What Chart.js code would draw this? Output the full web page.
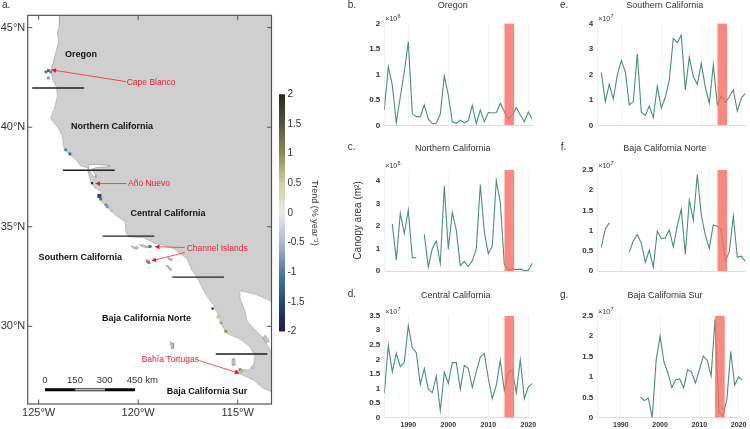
<!DOCTYPE html>
<html>
<head>
<meta charset="utf-8">
<title>Kelp canopy area trends</title>
<script src="https://cdn.jsdelivr.net/npm/chart.js@4"></script>
<style>
html,body{margin:0;padding:0;background:#fff;width:750px;height:429px;overflow:hidden}
canvas{position:absolute;display:block}
</style>
</head>
<body>
<script>
const years=[1984,1985,1986,1987,1988,1989,1990,1991,1992,1993,1994,1995,1996,1997,1998,1999,2000,2001,2002,2003,2004,2005,2006,2007,2008,2009,2010,2011,2012,2013,2014,2015,2016,2017,2018,2019,2020,2021];
const oregon=[.30,1.15,.79,.05,.56,1.05,1.64,.23,.17,.17,.40,.12,.03,.04,.22,.97,.59,.07,.04,.10,.05,.09,.39,.03,.30,.07,.25,.24,.25,.43,.27,.12,.19,.35,.20,.07,.26,.12];
const northernCalifornia=[null,null,2.09,.49,2.56,1.67,2.71,.59,.61,null,1.64,.18,1.0,1.33,.34,3.79,.98,2.6,1.82,.25,.43,.21,.46,1.0,3.84,1.75,.77,1.12,4.01,3.08,.30,.05,.10,.07,.09,.03,.03,.36];
const centralCalifornia=[.84,2.47,1.58,2.21,1.75,1.90,3.16,2.40,2.23,1.14,1.69,.97,.86,1.42,.24,1.56,1.18,1.89,1.89,.98,1.80,1.69,1.04,1.58,2.08,2.21,1.35,.65,1.12,1.97,.94,1.54,1.64,.85,1.99,.65,1.05,1.18];
const southernCalifornia=[null,2.07,.93,1.61,1.03,1.97,2.54,2.10,.80,.93,2.80,.51,.39,.76,.30,1.54,.67,1.10,1.78,3.41,3.24,3.54,1.39,2.67,1.91,1.61,2.43,1.49,.86,2.37,.80,1.15,.89,1.12,1.39,.56,1.06,1.25];
const bajaNorte=[null,.59,1.04,1.19,null,null,null,null,.47,.75,.90,.69,.22,.52,.10,.99,.80,.82,1.02,.60,1.12,1.53,.42,1.75,1.25,2.38,1.39,.89,.56,1.14,1.11,1.02,.24,.48,1.36,.34,.37,.24];
const bajaSur=[null,null,null,null,null,null,null,null,null,null,null,.51,.42,.48,0,1.41,2.0,1.36,1.09,.74,.93,.95,.73,1.18,1.12,.85,1.17,1.51,1.41,1.02,2.41,.12,.05,.43,1.63,.80,1.0,.92];
const eventYears=[2014,2016.5];
const xTickYears=[1990,2000,2010,2020];
const lonTicks=[-125,-120,-115];
const latTicks=[30,35,40,45];
const trendTicks=[-2,-1.5,-1,-.5,0,.5,1,1.5,2];

const landLon=[-123.93,-123.96,-124.06,-124.0,-124.13,-124.26,-124.38,-124.35,-124.26,-124.10,-124.06,-124.18,-124.40,-124.01,-123.81,-123.73,-123.43,-123.12,-122.92,-122.50,-122.5,-122.39,-122.17,-121.83,-121.95,-121.58,-121.16,-120.66,-120.61,-120.49,-119.74,-119.15,-118.74,-118.23,-117.56,-117.31,-117.06,-116.89,-116.64,-116.22,-115.97,-115.80,-115.55,-114.88,-114.38,-114.13,-114.21,-114.46,-114.88,-115.17,-114.72,-114.21,-113.71,-113.31,-113.0,-113.0,-113.26,-113.46,-113.79,-114.13,-114.52,-114.63,-114.85,-114.88,-114.47,-114.05,-113.29,-113.0,-113.0];
const landLat=[45.8,45.13,44.72,44.30,43.80,43.29,42.91,42.63,42.29,42.0,41.54,41.04,40.45,39.95,39.53,38.95,38.61,38.36,38.08,37.94,37.69,37.27,36.94,36.77,36.35,36.02,35.6,35.25,34.75,34.50,34.45,34.16,34.08,33.91,33.41,32.83,32.49,32.16,31.66,31.07,30.57,30.07,29.65,29.36,28.98,28.48,28.06,27.81,27.84,27.76,27.53,27.31,26.89,26.72,26.5,28.4,28.58,29.0,29.50,29.83,30.25,30.75,31.34,31.79,31.7,31.59,31.25,31.1,45.8];
const islands=[
 [[-120.36,34.05],[-120.21,33.98],[-119.99,34.0],[-120.04,33.88],[-120.21,33.91]],
 [[-119.94,34.11],[-119.74,34.05],[-119.49,34.03],[-119.30,34.0],[-119.49,33.95],[-119.82,34.0]],
 [[-119.57,33.26],[-119.41,33.23],[-119.41,33.14],[-119.54,33.16]],
 [[-118.52,33.46],[-118.28,33.38],[-118.32,33.29],[-118.48,33.36]],
 [[-118.60,33.08],[-118.48,33.04],[-118.30,32.83],[-118.40,32.81]],
 [[-118.40,29.2],[-118.22,29.15],[-118.22,28.9],[-118.32,28.86]],
 [[-115.28,28.36],[-115.15,28.39],[-115.12,28.06],[-115.25,28.03]],
 [[-113.63,29.55],[-113.41,29.25],[-113.58,29.18],[-113.73,29.43]]
];
const waterPatches=[
 [[-122.50,38.11],[-122.17,38.14],[-121.45,38.08],[-121.45,38.01],[-122.09,37.98],[-122.34,37.89],[-122.14,37.61],[-122.12,37.47],[-122.29,37.56],[-122.50,37.89]],
 [[-114.28,28.03],[-114.15,27.96],[-114.25,27.86]]
];
const kelpLon=[-124.63,-124.51,-124.40,-124.51,-123.64,-123.43,-122.32,-121.95,-121.88,-121.62,-121.55,-121.33,-119.41,-119.74,-119.49,-119.55,-116.26,-115.99,-115.84,-115.6,-114.88,-114.8];
const kelpLat=[42.78,42.84,42.78,42.47,38.86,38.66,37.19,36.55,36.40,36.10,36.0,35.80,34.01,34.05,33.23,33.28,30.89,30.47,30.17,29.75,27.82,27.75];
const kelpTrend=[-1.0,-1.2,-.9,-.7,-1.0,-1.2,1.9,-1.5,-1.1,-.9,-.8,.6,-1.0,.6,-1.0,.9,1.9,.6,.8,1.0,1.0,.7];
const regionLines=[
 {lon:[-125.32,-122.72],lat:41.97},
 {lon:[-123.78,-121.18],lat:37.84},
 {lon:[-121.78,-119.19],lat:34.53},
 {lon:[-118.28,-115.69],lat:32.47},
 {lon:[-116.1,-113.51],lat:28.61}
];
const scaleBarLon=[-124.68,-123.17,-121.67,-120.16];
const scaleBarLat=26.82;
const arrowsList=[
 {from:[-120.61,42.29],to:[-124.35,42.88]},
 {from:[-120.58,37.17],to:[-122.14,37.17]},
 {from:[-117.65,33.96],to:[-119.15,34.0]},
 {from:[-117.65,33.71],to:[-119.32,33.29]},
 {from:[-116.93,28.28],to:[-114.92,27.64]}
];
const colorStops=[[-2,[32,26,77]],[-1.5,[35,72,114]],[-1,[79,122,166]],[-.5,[169,187,208]],[0,[234,234,232]],[.5,[207,207,160]],[1,[141,141,86]],[1.5,[85,86,58]],[2,[43,42,20]]];
const FONT='"Liberation Sans", Arial, sans-serif';
const DARK='#333333';
Chart.defaults.font.family=FONT;
Chart.defaults.animation=false;
Chart.defaults.responsive=false;
Chart.defaults.plugins.legend.display=false;
Chart.defaults.plugins.tooltip.enabled=false;

function trendColor(t){
 for(let i=1;i<colorStops.length;i++){
  if(t<=colorStops[i][0]){
   const a=colorStops[i-1],b=colorStops[i],f=(t-a[0])/(b[0]-a[0]);
   const c=a[1].map((v,k)=>Math.round(v+(b[1][k]-v)*f));
   return `rgb(${c[0]},${c[1]},${c[2]})`;
  }
 }
 return `rgb(${colorStops[8][1].join(',')})`;
}
function addCanvas(left,top,w,h){
 const c=document.createElement('canvas');
 c.width=w;c.height=h;
 c.style.left=left+'px';c.style.top=top+'px';c.style.width=w+'px';c.style.height=h+'px';
 document.body.appendChild(c);
 return c;
}
function poly(pts,bg,border,order){
 return {data:pts.map(p=>({x:p[0],y:p[1]})),showLine:true,fill:'shape',backgroundColor:bg,borderColor:border,borderWidth:.6,pointRadius:0,order};
}

/* ---------- map ---------- */
(function(){
 const landPts=landLon.map((v,i)=>[v,landLat[i]]);
 const ds=[poly(landPts,'#cfcfcf','#a6a6a6',20)];
 islands.forEach(p=>ds.push(poly(p.concat([p[0]]),'#c4c4c4','#8c8c8c',19)));
 waterPatches.forEach(p=>ds.push(poly(p.concat([p[0]]),'#ffffff','#8c8c8c',18)));
 regionLines.forEach(r=>ds.push({data:r.lon.map(x=>({x,y:r.lat})),showLine:true,borderColor:'#1c1c1c',borderWidth:1.4,pointRadius:0,fill:false,order:5}));
 ds.push({data:kelpLon.map((x,i)=>({x,y:kelpLat[i]})),showLine:false,pointStyle:'rect',pointRadius:kelpTrend.map(t=>t<-1.4?2.8:(t>1.4?1.6:2)),pointBorderWidth:0,pointBackgroundColor:kelpTrend.map(trendColor),order:4});
 ds.push({data:[{x:scaleBarLon[0],y:scaleBarLat},{x:scaleBarLon[3],y:scaleBarLat}],showLine:true,borderColor:'#000',borderWidth:3,pointRadius:0,fill:false,order:3});
 ds.push({data:[{x:scaleBarLon[1],y:scaleBarLat},{x:scaleBarLon[2],y:scaleBarLat}],showLine:true,borderColor:'#bdbdbd',borderWidth:1.6,pointRadius:0,fill:false,order:2});
 const boldLabels=[['Oregon',81,54.5],['Northern California',112,127],['Central California',168,213.3],['Southern California',80.3,257.7],['Baja California Norte',146.5,319],['Baja California Sur',207,391.3]];
 const redLabels=[['Cape Blanco',126.7,82.7],['Año Nuevo',128,184],['Channel Islands',186.7,249],['Bahía Tortugas',141.7,359.3]];
 const scaleLabels=[['0',45,'center'],['150',75,'center'],['300',104.7,'center'],['450 km',126.7,'left']];
 const overlay={id:'mapOverlay',afterDatasetsDraw(chart){
  const {ctx,chartArea:a,scales:{x,y}}=chart;
  ctx.save();
  ctx.strokeStyle='#555';ctx.lineWidth=1;
  ctx.beginPath();
  lonTicks.forEach(v=>{const p=x.getPixelForValue(v);ctx.moveTo(p,a.top);ctx.lineTo(p,a.top+4.5);ctx.moveTo(p,a.bottom);ctx.lineTo(p,a.bottom-4.5);});
  latTicks.forEach(v=>{const p=y.getPixelForValue(v);ctx.moveTo(a.left,p);ctx.lineTo(a.left+4.5,p);ctx.moveTo(a.right,p);ctx.lineTo(a.right-4.5,p);});
  ctx.stroke();
  ctx.lineWidth=1.2;ctx.strokeRect(a.left,a.top,a.right-a.left,a.bottom-a.top);
  ctx.strokeStyle='#ec2b36';ctx.fillStyle='#e8102a';ctx.lineWidth=.8;
  arrowsList.forEach(r=>{
   const x0=x.getPixelForValue(r.from[0]),y0=y.getPixelForValue(r.from[1]),x1=x.getPixelForValue(r.to[0]),y1=y.getPixelForValue(r.to[1]);
   const t=Math.atan2(y1-y0,x1-x0);
   ctx.beginPath();ctx.moveTo(x0,y0);ctx.lineTo(x1,y1);ctx.stroke();
   ctx.beginPath();ctx.moveTo(x1,y1);
   ctx.lineTo(x1-5*Math.cos(t-.5),y1-5*Math.sin(t-.5));
   ctx.lineTo(x1-5*Math.cos(t+.5),y1-5*Math.sin(t+.5));
   ctx.closePath();ctx.fill();
  });
  ctx.textBaseline='middle';
  ctx.fillStyle='#111';ctx.font='bold 9px '+FONT;ctx.textAlign='center';
  boldLabels.forEach(l=>ctx.fillText(l[0],l[1],l[2]));
  ctx.fillStyle='#e8202e';ctx.font='8.5px '+FONT;ctx.textAlign='left';
  redLabels.forEach(l=>ctx.fillText(l[0],l[1],l[2]));
  ctx.fillStyle=DARK;ctx.font='9.5px '+FONT;
  scaleLabels.forEach(l=>{ctx.textAlign=l[2];ctx.fillText(l[0],l[1],380.7);});
  ctx.font='10px '+FONT;ctx.textAlign='left';ctx.fillText('a.',2,5);
  ctx.restore();
 }};
 new Chart(addCanvas(0,0,276,429),{type:'scatter',data:{datasets:ds},plugins:[overlay],options:{
  layout:{padding:{top:15.3,right:4.5}},
  scales:{
   x:{type:'linear',min:-125.55,max:-113.3,afterBuildTicks(s){s.ticks=lonTicks.map(value=>({value}));},afterFit(s){s.height=25;},
      grid:{display:false,drawTicks:false},border:{display:false},
      ticks:{padding:2.5,color:DARK,font:{size:11},autoSkip:false,maxRotation:0,callback:v=>(-v)+'°W'}},
   y:{type:'linear',min:26.1,max:45.62,afterBuildTicks(s){s.ticks=latTicks.map(value=>({value}));},afterFit(s){s.width=27.7;},
      grid:{display:false,drawTicks:false},border:{display:false},
      ticks:{padding:2.4,color:DARK,font:{size:11},autoSkip:false,callback:v=>v+'°N'}}
  }}});
})();

/* ---------- colour bar ---------- */
new Chart(addCanvas(270,85,60,255),{type:'bar',data:{labels:['Trend'],datasets:[{data:[[-2,2]],barPercentage:1,categoryPercentage:1,
  backgroundColor(c){
   const a=c.chart.chartArea; if(!a) return '#ccc';
   const g=c.chart.ctx.createLinearGradient(0,a.bottom,0,a.top);
   colorStops.forEach(s=>g.addColorStop((s[0]+2)/4,`rgb(${s[1].join(',')})`));
   return g;
  }}]},options:{
  layout:{padding:{left:9,top:9.3,bottom:7.7}},
  scales:{
   x:{display:false},
   y:{position:'right',min:-2,max:2,afterBuildTicks(s){s.ticks=trendTicks.map(value=>({value}));},afterFit(s){s.width=45;},
      grid:{display:false,drawTicks:false},border:{display:false},
      ticks:{padding:2.4,color:DARK,font:{size:10},autoSkip:false,callback:v=>String(v)},
      title:{display:true,text:'Trend (% year⁻¹)',color:DARK,font:{size:9},padding:{top:10.6,bottom:0}}}
  }}});

/* ---------- time-series panels ---------- */
const lineGreen='#4a9078';
const eventRed='rgba(249,107,97,0.8)';
function panel(o){
 const W=200,L=o.canvasLeft,H=o.canvasH;
 const text={id:'panelText',afterDatasetsDraw(chart){
  const {ctx,chartArea:a}=chart;
  ctx.save();
  ctx.fillStyle=DARK;ctx.textBaseline='middle';ctx.textAlign='center';
  ctx.font='9px '+FONT;ctx.fillText(o.title,o.titleX-L,o.titleY-o.canvasTop);
  ctx.textAlign='left';
  ctx.font='10px '+FONT;ctx.fillText(o.letter,o.letterX-L,o.letterY-o.canvasTop);
  ctx.font='7px '+FONT;ctx.fillText('×10',a.left+1,a.top-4);
  const w=ctx.measureText('×10').width;
  ctx.font='5.5px '+FONT;ctx.fillText(o.exp,a.left+1+w+.4,a.top-6.5);
  ctx.restore();
 }};
 new Chart(addCanvas(L,o.canvasTop,W,H),{type:'line',data:{datasets:[
   {data:eventYears.map(x=>({x,y:o.max})),fill:'origin',backgroundColor:eventRed,borderWidth:0,pointRadius:0,order:1},
   {data:years.map((x,i)=>({x,y:o.values[i]})),borderColor:lineGreen,borderWidth:1.1,pointRadius:0,tension:0,spanGaps:false,fill:false,order:2}
  ]},plugins:[text],options:{
  layout:{padding:{top:o.top-o.canvasTop,right:L+W-(o.left+148)}},
  scales:{
   x:{type:'linear',min:1984,max:2021,afterBuildTicks(s){s.ticks=xTickYears.map(value=>({value}));},afterFit(s){s.height=o.canvasTop+H-o.bottom;},
      grid:{display:true,drawTicks:false,color:'#f5f5f5',lineWidth:1},border:{display:true,color:'#dcdcdc'},
      ticks:{display:o.showX,padding:3.5,color:DARK,font:{size:7,weight:'bold'},autoSkip:false,maxRotation:0,callback:v=>String(v)}},
   y:{type:'linear',min:0,max:o.max,afterBuildTicks(s){s.ticks=o.ticks.map(value=>({value}));},afterFit(s){s.width=o.left-L;},
      grid:{display:false,drawTicks:false},border:{display:true,color:'#f0f0f0'},
      ticks:{padding:4,color:DARK,font:{size:8,weight:'bold'},autoSkip:false,callback:v=>String(v)},
      title:o.yTitle?{display:true,text:o.yTitle,color:DARK,font:{size:10},padding:{top:o.yTitleX-L-6,bottom:0}}:{display:false}}
  }}});
}
const half5=[0,.5,1,1.5,2,2.5],half7=[0,.5,1,1.5,2,2.5,3,3.5];
panel({values:oregon,title:'Oregon',letter:'b.',exp:'6',max:2,ticks:[0,.5,1,1.5,2],titleX:452.7,titleY:6,canvasLeft:340,canvasTop:0,canvasH:135,top:23.3,bottom:125.3,left:384.3,letterX:347.7,letterY:5,showX:false});
panel({values:northernCalifornia,title:'Northern California',letter:'c.',exp:'6',max:4.5,ticks:[0,1,2,3,4],titleX:452.7,titleY:148.7,canvasLeft:340,canvasTop:135,canvasH:150,top:169.7,bottom:271.2,left:384.3,letterX:347.7,letterY:147,showX:false,yTitle:'Canopy area (m²)',yTitleX:358});
panel({values:centralCalifornia,title:'Central California',letter:'d.',exp:'7',max:3.5,ticks:half7,titleX:455.7,titleY:295.7,canvasLeft:340,canvasTop:285,canvasH:144,top:315.7,bottom:417.7,left:384.3,letterX:347.7,letterY:294.3,showX:true});
panel({values:southernCalifornia,title:'Southern California',letter:'e.',exp:'7',max:4,ticks:[0,1,2,3,4],titleX:664.7,titleY:6,canvasLeft:550,canvasTop:0,canvasH:135,top:23.3,bottom:125.3,left:597.3,letterX:560,letterY:5,showX:false});
panel({values:bajaNorte,title:'Baja California Norte',letter:'f.',exp:'7',max:2.5,ticks:half5,titleX:664.7,titleY:148.7,canvasLeft:550,canvasTop:135,canvasH:150,top:169.7,bottom:271.2,left:597.3,letterX:560.7,letterY:147.3,showX:false});
panel({values:bajaSur,title:'Baja California Sur',letter:'g.',exp:'7',max:2.5,ticks:half5,titleX:665,titleY:295.7,canvasLeft:550,canvasTop:285,canvasH:144,top:315.7,bottom:417.7,left:597.3,letterX:560,letterY:295,showX:true});
</script>
</body>
</html>
